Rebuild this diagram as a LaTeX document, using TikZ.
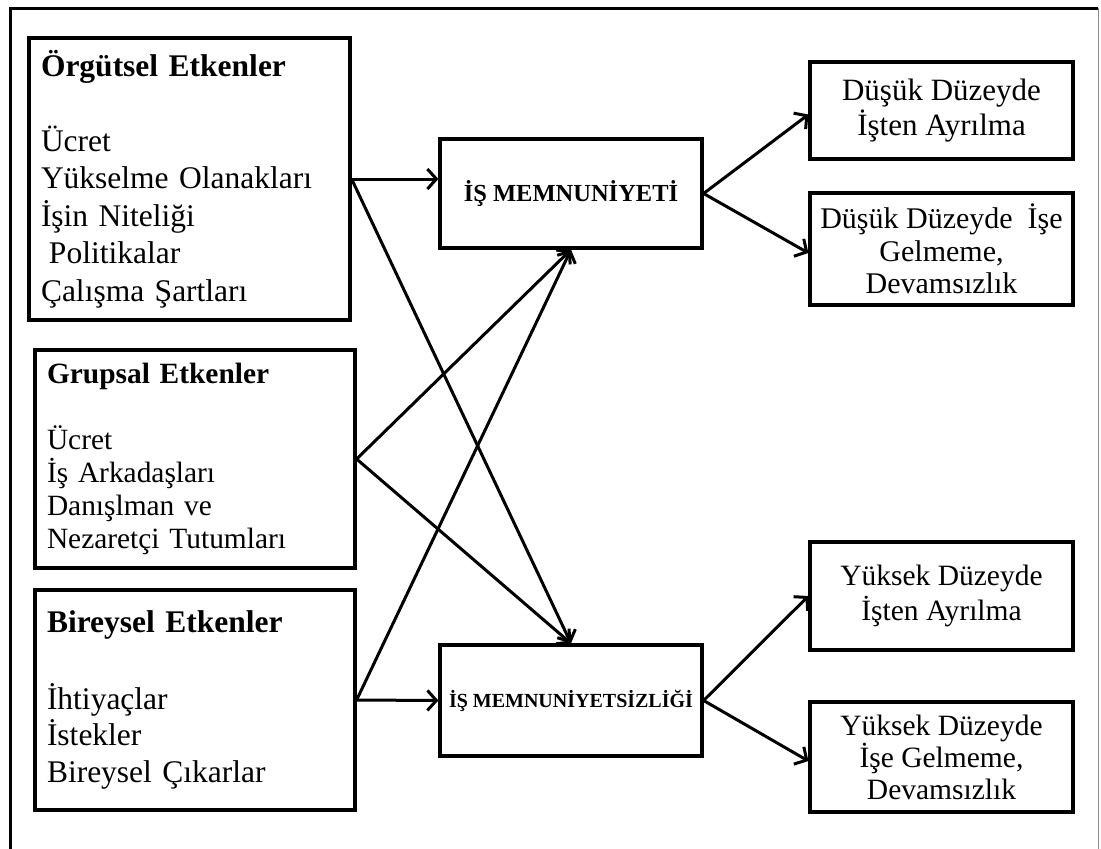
\documentclass[tikz,border=0pt]{standalone}
\usepackage{fontspec}
\setmainfont{Liberation Serif}
\usetikzlibrary{arrows.meta}
\begin{document}
\begin{tikzpicture}[x=1pt,y=-1pt,
  box/.style={draw, line width=3.2pt, rectangle, inner sep=0pt},
  leftbox/.style={box, align=left, inner xsep=12pt, text width=#1},
  rightbox/.style={box, align=center, minimum width=263pt},
  link/.style={line width=3pt, -{Straight Barb[length=9pt,width=20pt,line width=3pt]}},
]
\useasboundingbox (0,0) rectangle (1101,849);
% outer frame
\draw[line width=3pt] (10,849) -- (10,8) -- (1098,8);
\draw[line width=0.8pt, black!45] (1098,8) -- (1098,849);

% factor boxes
\node[leftbox=297pt, minimum width=321pt, minimum height=282pt,
      font=\fontsize{31.5}{37.5}\selectfont] (org) at (189.5,179)
  {\textbf{Örgütsel Etkenler}\\[37.5pt]Ücret\\Yükselme Olanakları\\İşin Niteliği\\\hspace*{8pt}Politikalar\\Çalışma Şartları};
\node[leftbox=296pt, minimum width=320pt, minimum height=218pt,
      font=\fontsize{29.4}{33}\selectfont] (grp) at (195,459)
  {\textbf{Grupsal Etkenler}\\[33pt]Ücret\\İş Arkadaşları\\Danışlman ve\\Nezaretçi Tutumları};
\node[leftbox=296pt, minimum width=320pt, minimum height=220pt,
      font=\fontsize{31.5}{36.5}\selectfont] (bir) at (195,700)
  {\textbf{Bireysel Etkenler}\\[40pt]İhtiyaçlar\\İstekler\\Bireysel Çıkarlar};

% satisfaction boxes
\node[box, minimum width=262pt, minimum height=109pt,
      font=\fontsize{24.5}{28}\selectfont\bfseries] (mem) at (571,193.5) {İŞ MEMNUNİYETİ};
\node[box, minimum width=262pt, minimum height=111pt,
      font=\fontsize{20}{24}\selectfont\bfseries] (memsiz) at (571,700.5) {İŞ MEMNUNİYETSİZLİĞİ};

% outcome boxes
\node[rightbox, minimum height=97pt, font=\fontsize{31}{35}\selectfont] (dayr) at (941.5,110.5)
  {Düşük Düzeyde\\İşten Ayrılma};
\node[rightbox, minimum height=112pt, font=\fontsize{30}{32.5}\selectfont] (ddev) at (941.5,249)
  {Düşük Düzeyde~ İşe\\Gelmeme,\\Devamsızlık};
\node[rightbox, minimum height=108pt, font=\fontsize{29.5}{35}\selectfont] (yayr) at (941.5,596)
  {Yüksek Düzeyde\\İşten Ayrılma};
\node[rightbox, minimum height=110pt, font=\fontsize{29.5}{32}\selectfont] (ydev) at (941.5,757)
  {Yüksek Düzeyde\\İşe Gelmeme,\\Devamsızlık};

% influences
\draw[link] (org.east) -- (org.east -| mem.west);
\draw[link] (org.east) -- (memsiz.north);
\draw[link] (grp.east) -- (mem.south);
\draw[link] (grp.east) -- (memsiz.north);
\draw[link] (bir.east) -- (mem.south);
\draw[link] (bir.east) -- (memsiz.west);

% outcomes
\draw[link] (mem.east) -- ([yshift=-4pt]dayr.west);
\draw[link] (mem.east) -- ([yshift=-4pt]ddev.west);
\draw[link] (memsiz.east) -- (yayr.west);
\draw[link] (memsiz.east) -- ([yshift=-4pt]ydev.west);
\end{tikzpicture}
\end{document}
